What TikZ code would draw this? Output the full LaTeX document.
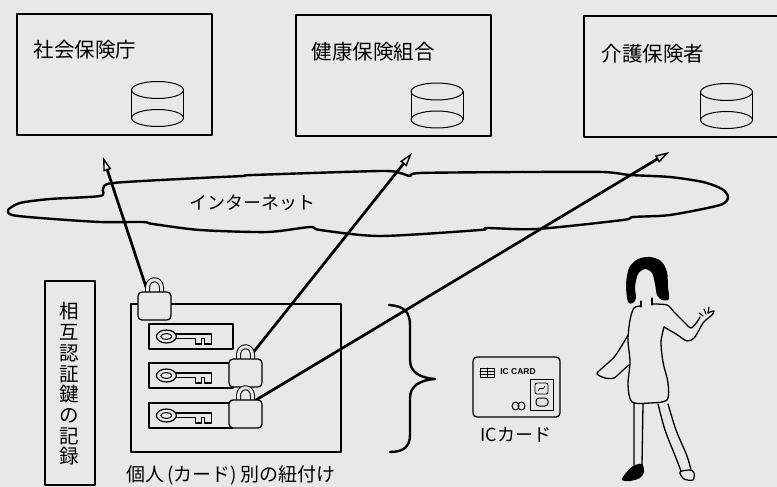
\documentclass[tikz,border=0pt]{standalone}
\usepackage{fontspec}
\setmainfont{Noto Sans CJK JP}
\newfontfamily\cardfont{Liberation Sans}
\usetikzlibrary{arrows.meta}
\definecolor{bg}{gray}{0.91}
\tikzset{
  orgbox/.style={draw, line width=1.3pt, minimum width=195pt, minimum height=121pt, inner sep=0pt},
  orgline/.style={line width=1.3pt},
  title/.style={font=\fontsize{20.5}{24}\selectfont, inner sep=0pt},
  label/.style={font=\fontsize{18}{22}\selectfont, inner sep=0pt},
  cloudline/.style={line width=2.4pt},
  linkarrow/.style={line width=2.7pt, -{Triangle[open, length=14pt, width=8pt, line width=1.4pt]}},
  panelbox/.style={draw, line width=1.3pt, minimum width=210pt, minimum height=148pt, inner sep=0pt},
  keybox/.style={draw, line width=1.3pt, minimum width=84pt, minimum height=25pt, inner sep=0pt},
  vbox/.style={draw, line width=1.3pt, minimum width=50pt, minimum height=204pt, inner sep=0pt},
  vtext/.style={align=center, inner sep=0pt, font=\fontsize{19.5}{20.7}\selectfont},
  cardbox/.style={draw, line width=1.3pt, rounded corners=4pt, minimum width=87pt, minimum height=60pt, inner sep=0pt},
  db/.pic={
    \draw[line width=1pt] (-26,0) -- (-26,28);
    \draw[line width=1pt] (26,0) -- (26,28);
    \draw[line width=1pt] (0,0) ellipse[x radius=26, y radius=8.5];
    \draw[line width=1pt] (0,28) ellipse[x radius=26, y radius=8.5];
  },
  key/.pic={
    \draw[line width=1.2pt] (0,0) ellipse[x radius=10, y radius=6.5];
    \draw[line width=1pt] (0,0) ellipse[x radius=5.5, y radius=3];
    \draw[line width=1.2pt] (9.6,-2.5) -- (45,-2.5) -- (45,7.5) -- (38,7.5) -- (38,2)
      -- (35,2) -- (35,7.5) -- (29,7.5) -- (29,2) -- (9.6,2);
  },
  padlock/.pic={
    \draw[line width=1pt, double=bg, double distance=3pt]
      (9.5,3) -- (9.5,-4) .. controls (9.5,-15) and (23.5,-15) .. (23.5,-4) -- (23.5,3);
    \draw[line width=1.3pt, fill=bg, rounded corners=4pt] (0,0) rectangle (33,28);
  },
}
\begin{document}
\begin{tikzpicture}[x=1pt, y=-1pt, line join=round, line cap=round]
\fill[bg] (0,0) rectangle (777,487);
\useasboundingbox (0,0) rectangle (777,487);

% insurers with their databases
\node[orgbox] (sia) at (114.5,74.5) {};
\node[orgbox] (kenpo) at (393.5,75.5) {};
\draw[orgline, line cap=butt] (777,16) -- (584,16) -- (584,137) -- (777,137);
\node[title] (siaT) at (85,50) {社会保険庁};
\node[title] (kenpoT) at (373,52) {健康保険組合};
\node[title] (kaigoT) at (653,54) {介護保険者};
\pic at (157.5,90) {db};
\pic at (437,91.5) {db};
\pic at (726.5,92) {db};

% the internet cloud
\draw[cloudline] plot[smooth cycle, tension=0.45] coordinates {
  (8,210) (20,203) (50,199) (100,196) (103,189) (113,183) (200,178) (243,176)
  (253,175) (380,171) (400,173) (410,176) (420,173) (517,172) (527,172)
  (603,172) (630,175) (670,177) (703,182) (722,189) (728,197) (720,205)
  (670,215) (633,217) (623,220) (537,229) (487,228) (480,230) (380,236)
  (320,230) (310,227) (267,232) (200,230) (153,224) (143,222) (100,222)
  (40,218) (12,215)};
\node[label] (net) at (252,203) {インターネット};

% mutual authentication key records
\node[vbox] (vb) at (70,383) {};
\node[vtext] (vt) at (69,384) {相\\互\\認\\証\\鍵\\の\\記\\録};

\node[panelbox] (panel) at (236,378) {};
\node[keybox] (k1) at (191,336.5) {};
\node[keybox] (k2) at (191,375.5) {};
\node[keybox] (k3) at (191,415.5) {};
\pic at ([xshift=18pt]k1.west) {key};
\pic at ([xshift=18pt]k2.west) {key};
\pic at ([xshift=18pt]k3.west) {key};
\node[label, font=\fontsize{19}{22}\selectfont] (link) at (231,475) {個人\,(カード)\,別の紐付け};

% links from each lock to its insurer
\coordinate (lk1) at (146,287);
\coordinate (lk2) at (252,354);
\coordinate (lk3) at (256,400);
\coordinate (up1) at (103,157);
\coordinate (up2) at (412,153);
\coordinate (up3) at (669,152);
\draw[linkarrow] (lk1) -- (up1);
\draw[linkarrow] (lk2) -- (up2);
\draw[linkarrow] (lk3) -- (up3);

\pic at (138,292) {padlock};
\pic at (229,359) {padlock};
\pic at (229,400) {padlock};

% brace
\draw[line width=2.4pt] (389,305) .. controls (404,306) and (410,312) .. (410,325)
  -- (410,360) .. controls (410,372) and (420,378) .. (435,379)
  .. controls (420,380) and (410,386) .. (410,398)
  -- (410,435) .. controls (410,447) and (403,452) .. (390,452);

% IC card
\node[cardbox] (card) at (516.5,387) {};
\node[inner sep=0pt, font=\cardfont\bfseries\fontsize{8.5}{10}\selectfont] (cardT) at (518,372) {IC CARD};
\draw[line width=0.8pt] (480,368) rectangle (494,377);
\draw[line width=0.8pt] (487,368) -- (487,377) (480,371) -- (494,371) (480,374) -- (494,374);
\draw[line width=1pt] (515.5,406) ellipse[x radius=3.5, y radius=4];
\draw[line width=1pt] (521.5,406) ellipse[x radius=3.5, y radius=4];
\draw[line width=1pt] (530,379) rectangle (553,410);
\draw[line width=0.8pt, rounded corners=2pt] (535,383) rectangle (548,394);
\draw[line width=0.6pt] (538,391) .. controls (540,385) and (543,392) .. (545,386);
\draw[line width=1pt, rounded corners=3pt] (536,398) rectangle (548,406);
\node[label] (cardL) at (516,435) {ICカード};

% card holder
\fill[black] plot[smooth cycle, tension=0.5] coordinates {
  (628,302) (626,285) (629,268) (638,259) (650,257) (661,261) (667,272)
  (668,287) (669,299) (662,300) (657,295) (655,284) (652,273) (645,269)
  (638,274) (635,287) (636,298) (633,303)};
\draw[line width=1.2pt] (641,301) -- (641,307) (652,298) -- (652,305);
\draw[line width=1.3pt] plot[smooth, tension=0.5] coordinates {
  (641,306) (634,308) (630,320) (628,340) (630,362) (628,385) (632,402)
  (650,403) (667,400) (668,383) (663,362) (661,342) (664,327)};
\draw[line width=1.3pt] plot[smooth, tension=0.5] coordinates {
  (664,327) (676,334) (687,341) (694,338) (699,330) (703,323) (707,319)
  (712,315) (714,311) (710,312) (708,313)};
\draw[line width=1.1pt] (708,313) -- (709,307) (706,314) -- (704,309) (703,316) -- (699,313);
\draw[line width=1.3pt] plot[smooth, tension=0.5] coordinates {
  (700,317) (697,322) (691,328) (684,322) (674,312) (667,305) (652,304)};
\draw[line width=1.3pt] plot[smooth, tension=0.5] coordinates {
  (628,335) (615,356) (600,370) (597,374) (605,378) (614,378) (622,371) (629,365)};
\draw[line width=1.3pt] (634,403) -- (634,465) (643,404) -- (642,465);
\fill[black] plot[smooth cycle, tension=0.5] coordinates {
  (622,480) (625,474) (633,466) (642,464) (644,472) (640,478) (630,481)};
\draw[line width=1.3pt] plot[smooth, tension=0.5] coordinates {(658,404) (665,430) (676,458) (681,471)};
\draw[line width=1.3pt] plot[smooth, tension=0.5] coordinates {(668,404) (676,430) (687,456) (691,470)};
\draw[line width=1.2pt] plot[smooth cycle, tension=0.5] coordinates {(680,472) (684,479) (693,480) (694,473) (690,470)};
\end{tikzpicture}
\end{document}
